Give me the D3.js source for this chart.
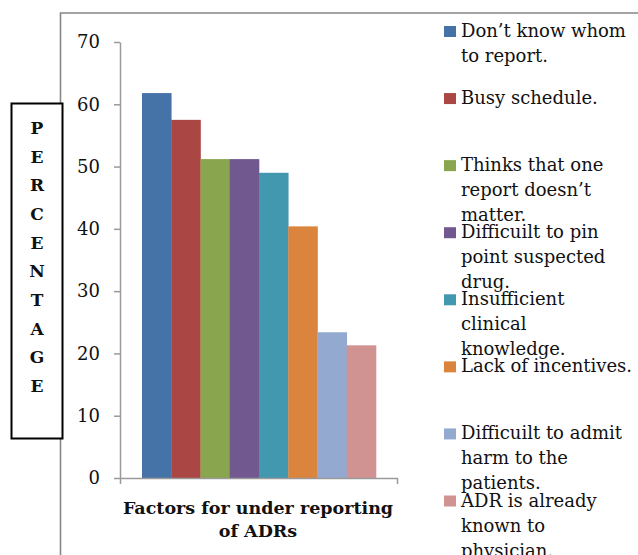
<!DOCTYPE html>
<html>
<head>
<meta charset="utf-8">
<script src="https://cdn.jsdelivr.net/npm/d3@7"></script>
<style>
  html, body { margin: 0; padding: 0; background: #fff; }
  svg { display: block; }
  text { font-family: "DejaVu Serif", "Liberation Serif", serif; }
</style>
</head>
<body>
<svg id="chart" width="638" height="555"></svg>
<script>
// ---- data ----
const categories = [
  "Don’t know whom to report.",
  "Busy schedule.",
  "Thinks that one report doesn’t matter.",
  "Difficuilt to pin point suspected drug.",
  "Insufficient clinical knowledge.",
  "Lack of incentives.",
  "Difficuilt to admit harm to the patients.",
  "ADR is already known to physician."
];
const legendLines = [
  ["Don’t know whom", "to report."],
  ["Busy schedule."],
  ["Thinks that one", "report doesn’t", "matter."],
  ["Difficuilt to pin", "point suspected", "drug."],
  ["Insufficient", "clinical", "knowledge."],
  ["Lack of incentives."],
  ["Difficuilt to admit", "harm to the", "patients."],
  ["ADR is already", "known to", "physician."]
];
const values = [61.8, 57.5, 51.2, 51.2, 49.0, 40.4, 23.4, 21.3];
const colors = ["#4572A7", "#AA4643", "#89A54E", "#71588F", "#4198AF", "#DB843D", "#93A9CF", "#D19392"];
const yTicks = [0, 10, 20, 30, 40, 50, 60, 70];
const yLabelLetters = ["P","E","R","C","E","N","T","A","G","E"];
const xTitleLines = ["Factors for under reporting", "of ADRs"];

// ---- drawing ----
const svg = d3.select("#chart");

// outer chart frame (extends past the window)
svg.append("path")
  .attr("d", "M60.5,700 L60.5,13 L700,13")
  .attr("fill", "none")
  .attr("stroke", "#878787")
  .attr("stroke-width", 1.6);

const y = d3.scaleLinear().domain([0, 70]).range([478, 42]);
const x = d3.scaleBand().domain(categories).range([142, 376]).padding(0);

// bars
svg.append("g").selectAll("rect")
  .data(categories)
  .join("rect")
  .attr("x", d => x(d))
  .attr("width", x.bandwidth() + 0.3)
  .attr("y", (d, i) => y(values[i]))
  .attr("height", (d, i) => y(0) - y(values[i]))
  .attr("fill", (d, i) => colors[i]);

// y axis
const yAxis = svg.append("g")
  .attr("transform", "translate(120,0)")
  .call(d3.axisLeft(y).tickValues(yTicks).tickSize(6).tickSizeOuter(0).tickPadding(14));
yAxis.select(".domain").attr("stroke", "#9a9a9a").attr("stroke-width", 1.5);
yAxis.selectAll(".tick line").attr("stroke", "#9a9a9a").attr("stroke-width", 1.5);
yAxis.selectAll(".tick text")
  .attr("font-family", "DejaVu Serif")
  .attr("font-size", 18)
  .attr("fill", "#111");

// x axis
const xLine = d3.scaleLinear().domain([0, 1]).range([120, 397]);
const xAxis = svg.append("g")
  .attr("transform", `translate(0,${y(0)})`)
  .call(d3.axisBottom(xLine).tickValues([0, 1]).tickSize(6).tickSizeOuter(0).tickFormat(""));
xAxis.select(".domain").attr("stroke", "#9a9a9a").attr("stroke-width", 1.5);
xAxis.selectAll(".tick line").attr("stroke", "#9a9a9a").attr("stroke-width", 1.5);

// x title
const xt = svg.append("text")
  .attr("text-anchor", "middle")
  .attr("font-weight", "bold")
  .attr("font-size", 17.5)
  .attr("fill", "#111");
xTitleLines.forEach((t, i) => {
  xt.append("tspan").attr("x", 258).attr("y", 514 + i * 22.5).text(t);
});

// y label box
svg.append("rect")
  .attr("x", 11.5).attr("y", 103.5)
  .attr("width", 51).attr("height", 335)
  .attr("fill", "#fff")
  .attr("stroke", "#000")
  .attr("stroke-width", 2);
const letterY = d3.scaleLinear().domain([0, yLabelLetters.length - 1]).range([134, 392]);
svg.append("g").selectAll("text")
  .data(yLabelLetters)
  .join("text")
  .attr("x", 37)
  .attr("y", (d, i) => letterY(i))
  .attr("text-anchor", "middle")
  .attr("font-weight", "bold")
  .attr("font-size", 17)
  .attr("fill", "#111")
  .text(d => d);

// legend
const legY = d3.scaleLinear().domain([0, categories.length - 1]).range([37, 506.5]);
const leg = svg.append("g").selectAll("g")
  .data(categories)
  .join("g")
  .attr("transform", (d, i) => `translate(0,${legY(i)})`);
leg.append("rect")
  .attr("x", 444).attr("y", -11)
  .attr("width", 12).attr("height", 11)
  .attr("fill", (d, i) => colors[i]);
leg.each(function(d, i) {
  const t = d3.select(this).append("text")
    .attr("font-size", 18)
    .attr("fill", "#111");
  legendLines[i].forEach((line, j) => {
    t.append("tspan").attr("x", 461).attr("y", j * 25).text(line);
  });
});
</script>
</body>
</html>
